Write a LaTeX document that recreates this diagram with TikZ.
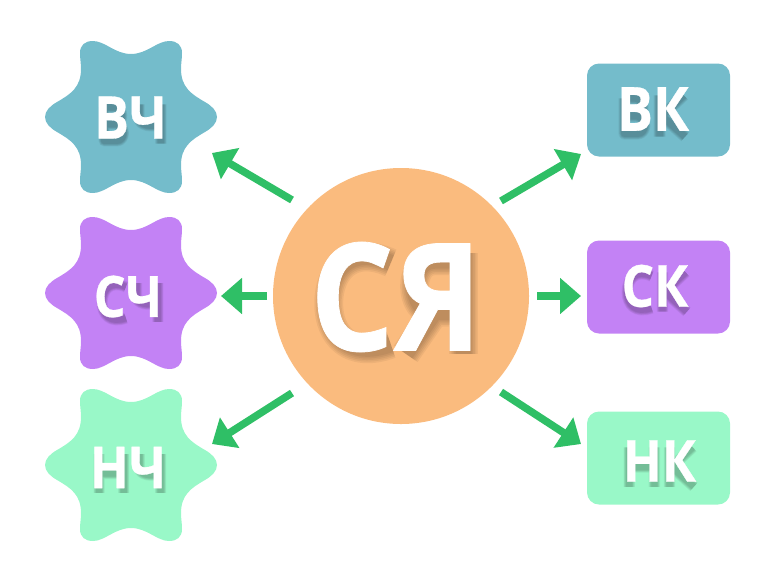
\documentclass[tikz,border=0pt]{standalone}
\usepackage{fontspec}
\setmainfont{Open Sans}[BoldFont={Open Sans Bold},BoldFeatures={FakeStretch=0.88,FakeBold=0.5}]
\usetikzlibrary{arrows.meta,shapes.geometric}
\definecolor{cblue}{HTML}{74BCCB}
\definecolor{cpurple}{HTML}{C382F5}
\definecolor{cmint}{HTML}{99F8C8}
\definecolor{corange}{HTML}{FABB7E}
\definecolor{cgreen}{HTML}{2FBF66}
\tikzset{
  arrowline/.style={draw=cgreen,line width=7.5pt,-{Triangle[length=21pt,width=35pt]}},
  keybox/.style={rounded corners=12pt,minimum width=143pt,minimum height=93pt,inner sep=0pt},
  lettertext/.style={text=white,font=\bfseries\fontsize{#1}{#1}\selectfont,inner sep=0pt},
}
% star outline, centred on the current origin, in reference pixels
\newcommand{\starblob}[1]{%
  \fill[#1] (-86,0)
    .. controls (-86,-6) and (-81,-11) .. (-74,-15)
    .. controls (-60,-23) and (-50,-30) .. (-50,-48)
    .. controls (-50,-54) and (-51,-58) .. (-51,-64)
    .. controls (-51,-72) and (-46,-76) .. (-38,-76)
    .. controls (-26,-76) and (-16,-63) .. (0,-63)
    .. controls (16,-63) and (26,-76) .. (38,-76)
    .. controls (46,-76) and (51,-72) .. (51,-64)
    .. controls (51,-58) and (50,-54) .. (50,-48)
    .. controls (50,-30) and (60,-23) .. (74,-15)
    .. controls (81,-11) and (86,-6) .. (86,0)
    .. controls (86,6) and (81,11) .. (74,15)
    .. controls (60,23) and (50,30) .. (50,48)
    .. controls (50,54) and (51,58) .. (51,64)
    .. controls (51,72) and (46,76) .. (38,76)
    .. controls (26,76) and (16,63) .. (0,63)
    .. controls (-16,63) and (-26,76) .. (-38,76)
    .. controls (-46,76) and (-51,72) .. (-51,64)
    .. controls (-51,58) and (-50,54) .. (-50,48)
    .. controls (-50,30) and (-60,23) .. (-74,15)
    .. controls (-81,11) and (-86,6) .. (-86,0) -- cycle;}
% soft shadows: letter skeletons, cap height = 1
\newcommand{\LB}[1]{(#1+.1,.1)--(#1+.1,.9)--(#1+.4,.9) .. controls (#1+.6,.9) and (#1+.62,.55) .. (#1+.38,.5)--(#1+.1,.5) (#1+.38,.5) .. controls (#1+.58,.45) and (#1+.55,.1) .. (#1+.35,.1)--(#1+.1,.1)}
\newcommand{\LC}[1]{(#1+.68,.12) .. controls (#1+.3,-.05) and (#1+.1,.2) .. (#1+.1,.5) .. controls (#1+.1,.8) and (#1+.3,1.02) .. (#1+.68,.88)}
\newcommand{\LCh}[1]{(#1+.1,.03)--(#1+.1,.35) .. controls (#1+.1,.55) and (#1+.4,.58) .. (#1+.62,.5) (#1+.62,.03)--(#1+.62,.97)}
\newcommand{\LK}[1]{(#1+.1,.03)--(#1+.1,.97) (#1+.65,.03)--(#1+.15,.5)--(#1+.68,.97)}
\newcommand{\LN}[1]{(#1+.1,.03)--(#1+.1,.97) (#1+.7,.03)--(#1+.7,.97) (#1+.1,.5)--(#1+.7,.5)}
\newcommand{\LYa}[1]{(#1+.62,.03)--(#1+.62,.97) (#1+.62,.1)--(#1+.35,.1) .. controls (#1+.1,.1) and (#1+.1,.58) .. (#1+.35,.58)--(#1+.62,.58) (#1+.35,.58)--(#1+.08,.97)}
\newcommand{\softshadow}[4]{% left, top, cap height, path
  \begin{scope}[shift={(#1,#2)},x=#3pt,y=-#3pt]
    \foreach \k in {0.27,0.24,0.21,0.18,0.15}
      \draw[black,opacity=0.05,line width=\k*#3 pt,line cap=butt,line join=round] #4;
  \end{scope}}
\begin{document}
\begin{tikzpicture}[x=1pt,y=-1pt]
\useasboundingbox (0,0) rectangle (783,587);
\begin{scope}[shift={(131,117)}]\starblob{cblue}\end{scope}
\begin{scope}[shift={(131,293)}]\starblob{cpurple}\end{scope}
\begin{scope}[shift={(131,465)}]\starblob{cmint}\end{scope}
\node[keybox,fill=cblue] (vk) at (658.5,110) {};
\node[keybox,fill=cpurple] (sk) at (658.5,287) {};
\node[keybox,fill=cmint] (nk) at (658.5,458) {};
\node[circle,fill=corange,minimum size=256pt,inner sep=0pt] (sya) at (401,296) {};
\softshadow{100}{103}{42}{\LB{0} \LCh{.83}}
\softshadow{98}{282}{41}{\LC{0} \LCh{.84}}
\softshadow{95}{453}{41}{\LN{0} \LCh{.98}}
\softshadow{620}{94}{44}{\LB{0} \LK{.80}}
\softshadow{623}{271}{42}{\LC{0} \LK{.84}}
\softshadow{625}{446}{42}{\LN{0} \LK{.96}}
\softshadow{318}{250}{107}{\LC{0} \LYa{.74}}
\node[lettertext=59] (vch) at (130.5,117.5) {ВЧ};
\node[lettertext=57] (sch) at (128,296.5) {СЧ};
\node[lettertext=58] (nch) at (128,467.5) {НЧ};
\node[lettertext=61] (vkt) at (653,109) {ВК};
\node[lettertext=58] (skt) at (655,286) {СК};
\node[lettertext=58] (nkt) at (659.5,461) {НК};
\node[lettertext=150] (syat) at (396,297) {СЯ};
\coordinate (a1s) at (292,200); \coordinate (a1e) at (212,153);
\coordinate (a2s) at (267,296); \coordinate (a2e) at (221,296);
\coordinate (a3s) at (292,393); \coordinate (a3e) at (212,444);
\coordinate (b1s) at (501,201); \coordinate (b1e) at (581,154);
\coordinate (b2s) at (537,296); \coordinate (b2e) at (581,296);
\coordinate (b3s) at (501,392); \coordinate (b3e) at (581,444);
\foreach \s/\e in {a1s/a1e,a2s/a2e,a3s/a3e,b1s/b1e,b2s/b2e,b3s/b3e}
  \draw[arrowline] (\s) -- (\e);
\end{tikzpicture}
\end{document}
